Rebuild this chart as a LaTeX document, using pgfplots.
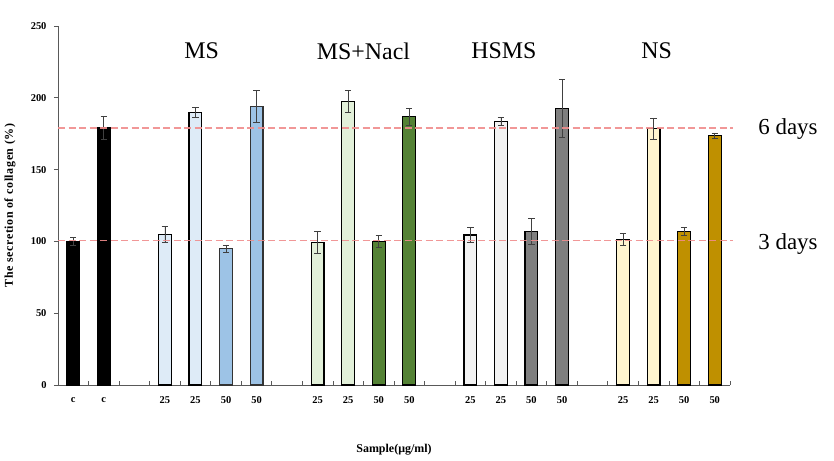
\documentclass[border=0pt]{standalone}
\usepackage{pgfplots}
\pgfplotsset{compat=1.18}
\usepackage{fontspec}
\setmainfont{Liberation Serif}
\newfontfamily\ylfont[LetterSpace=5]{Liberation Serif}
\definecolor{msA}{HTML}{DEEBF7}
\definecolor{msB}{HTML}{9DC3E6}
\definecolor{naA}{HTML}{E2F0D9}
\definecolor{naB}{HTML}{548235}
\definecolor{hsA}{HTML}{F2F2F2}
\definecolor{hsB}{HTML}{7F7F7F}
\definecolor{nsA}{HTML}{FFF5CF}
\definecolor{nsB}{HTML}{BF9000}
\definecolor{refline}{HTML}{F08C8C}
\definecolor{errc}{HTML}{404040}
\begin{document}
\begin{tikzpicture}
\useasboundingbox (0,0) rectangle (834bp,461bp);
\begin{axis}[
  at={(58bp,76bp)}, anchor=south west,
  scale only axis, width=672bp, height=359bp,
  xmin=-0.5, xmax=21.5, ymin=0, ymax=250,
  axis x line*=bottom, axis y line*=left,
  axis line style={draw=black!65, line width=0.8bp},
  ytick={0,50,...,250},
  xtick={-0.5,0.5,...,21.5},
  xticklabels={},
  extra x ticks={0,...,21},
  extra x tick labels={c,c,,25,25,50,50,,25,25,50,50,,25,25,50,50,,25,25,50,50},
  extra x tick style={major tick length=0pt, xticklabel style={font=\bfseries\fontsize{10.5}{12}\selectfont, anchor=center, yshift=-15bp}},
  xtick align=inside,
  ytick align=outside,
  major tick length=4bp,
  x tick style={draw=black!65, line width=0.7bp},
  y tick style={draw=black!65, line width=0.7bp},
  /pgf/number format/assume math mode=true,
  yticklabel style={font=\bfseries\fontsize{10.5}{12}\selectfont, anchor=east, xshift=-4bp},
  ylabel={The secretion of collagen (\%)},
  xlabel={Sample(μg/ml)},
  every axis y label/.style={at={(axis description cs:-0.0714,0.5)}, rotate=90, anchor=center, font=\ylfont\bfseries\fontsize{12}{14}\selectfont},
  every axis x label/.style={at={(axis description cs:0.5,-0.181)}, anchor=center, font=\bfseries\fontsize{12}{14}\selectfont},
  clip=false,
  every axis plot/.append style={bar shift=0pt},
]
\pgfplotsset{errs/.style={error bars/.cd, y dir=both, y explicit,
   error bar style={line width=0.7bp, color=errc},
   error mark options={rotate=90, mark size=3.2bp, line width=0.7bp, color=errc}}}
\addplot[ybar, bar width=0.42, fill=black, draw=black, line width=1.2bp, errs]
  coordinates {(0,100) +- (0,3) (1,179) +- (0,8)};
\addplot[ybar, bar width=0.42, fill=msA, draw=black, line width=1.2bp, errs]
  coordinates {(3,105) +- (0,5.5) (4,190) +- (0,3.5)};
\addplot[ybar, bar width=0.42, fill=msB, draw=black!80, line width=1.2bp, errs]
  coordinates {(5,95) +- (0,2.5) (6,194) +- (0,11)};
\addplot[ybar, bar width=0.42, fill=naA, draw=black, line width=1.2bp, errs]
  coordinates {(8,99.5) +- (0,7.5) (9,197.5) +- (0,7.5)};
\addplot[ybar, bar width=0.42, fill=naB, draw=black, line width=1.2bp, errs]
  coordinates {(10,100) +- (0,4) (11,187) +- (0,6)};
\addplot[ybar, bar width=0.42, fill=hsA, draw=black, line width=1.2bp, errs]
  coordinates {(13,104.5) +- (0,5) (14,183.5) +- (0,3)};
\addplot[ybar, bar width=0.42, fill=hsB, draw=black, line width=1.2bp, errs]
  coordinates {(15,107) +- (0,9) (16,192.5) +- (0,20)};
\addplot[ybar, bar width=0.42, fill=nsA, draw=black, line width=1.2bp, errs]
  coordinates {(18,101.5) +- (0,4) (19,178.5) +- (0,7.5)};
\addplot[ybar, bar width=0.42, fill=nsB, draw=black, line width=1.2bp, errs]
  coordinates {(20,107) +- (0,3) (21,173.5) +- (0,2)};
\addplot[refline, line width=1.3bp, dash pattern=on 7bp off 3.5bp, mark=none, opacity=0.9]
  coordinates {(-0.5,179) (21.6,179)};
\addplot[refline, line width=1.3bp, dash pattern=on 7bp off 3.5bp, mark=none, opacity=0.9]
  coordinates {(-0.5,100.5) (21.6,100.5)};
\node[font=\fontsize{24}{28}\selectfont] at (axis cs:4.2,232.5) {MS};
\node[font=\fontsize{24}{28}\selectfont] at (axis cs:9.5,232.5) {MS+Nacl};
\node[font=\fontsize{24}{28}\selectfont] at (axis cs:14.1,232.5) {HSMS};
\node[font=\fontsize{24}{28}\selectfont] at (axis cs:19.1,232.5) {NS};
\node[font=\fontsize{23}{27}\selectfont] at (axis cs:23.4,178) {6 days};
\node[font=\fontsize{23}{27}\selectfont] at (axis cs:23.4,98.5) {3 days};
\end{axis}
\end{tikzpicture}
\end{document}
